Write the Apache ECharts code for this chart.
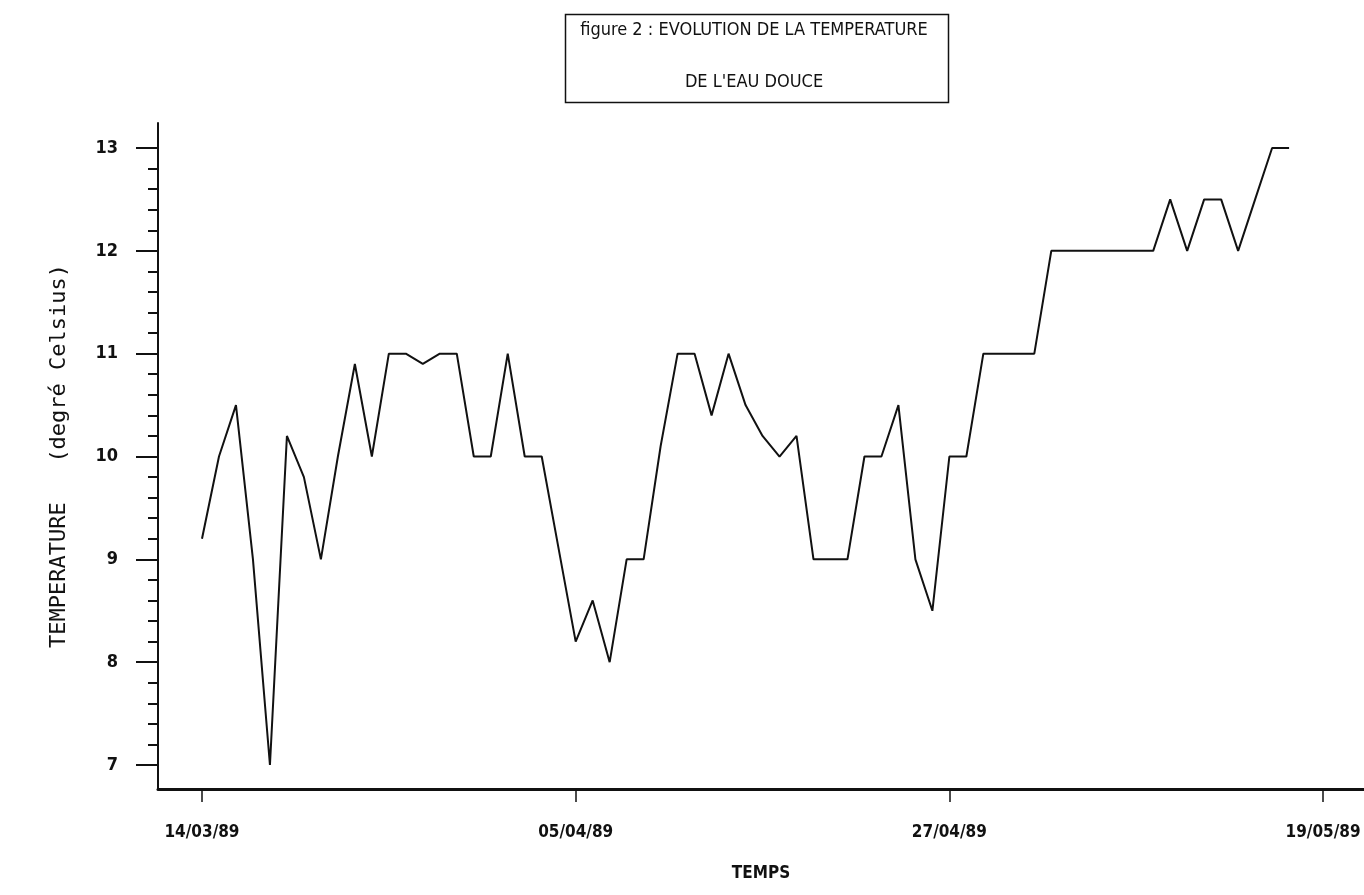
<!DOCTYPE html>
<html>
<head>
<meta charset="utf-8">
<title>Evolution de la température de l'eau douce</title>
<script src="https://cdn.jsdelivr.net/npm/echarts@6/dist/echarts.min.js"></script>
<style>
  html, body { margin: 0; padding: 0; background: #ffffff; }
  #chart { width: 1364px; height: 895px; }
</style>
</head>
<body>
<div id="chart"></div>
<script>
// Daily water temperature readings (°C), one per day starting 14/03/89
const temperatures = [
  9.2, 10.0, 10.5, 9.0, 7.0, 10.2, 9.8, 9.0, 10.0, 10.9,
  10.0, 11.0, 11.0, 10.9, 11.0, 11.0, 10.0, 10.0, 11.0, 10.0,
  10.0, 9.1, 8.2, 8.6, 8.0, 9.0, 9.0, 10.1, 11.0, 11.0,
  10.4, 11.0, 10.5, 10.2, 10.0, 10.2, 9.0, 9.0, 9.0, 10.0,
  10.0, 10.5, 9.0, 8.5, 10.0, 10.0, 11.0, 11.0, 11.0, 11.0,
  12.0, 12.0, 12.0, 12.0, 12.0, 12.0, 12.0, 12.5, 12.0, 12.5,
  12.5, 12.0, 12.5, 13.0, 13.0
];

// Date ticks (day offset from 14/03/89) and their labels
const dateTickDays = [0, 22, 44, 66];
const dateTickLabels = ['14/03/89', '05/04/89', '27/04/89', '19/05/89'];

// Temperature ticks: labelled every degree, minor marks every 0.2
const tempTicks = [7, 8, 9, 10, 11, 12, 13];
const minorPerDegree = 5;

const titleLines = ['figure 2 : EVOLUTION DE LA TEMPERATURE', "DE L'EAU DOUCE"];
const xName = 'TEMPS';
const yName = 'TEMPERATURE   (degré Celsius)';

const narrow = "'DejaVu Sans Condensed', 'Liberation Sans Narrow', sans-serif";
const mono = "'DejaVu Sans Mono', 'Liberation Mono', monospace";
const ink = '#111111';

const seriesData = temperatures.map((t, day) => [day, t]);

const minorTicks = [];
for (let i = 0; i < tempTicks.length - 1; i++) {
  for (let k = 1; k < minorPerDegree; k++) {
    minorTicks.push(+(tempTicks[i] + k / minorPerDegree).toFixed(2));
  }
}

// Axis extents: the frame runs a little past the first and last ticks
const xMin = -2.59, xMax = 68.41;
const yMin = 6.767, yMax = 13.243;

const chart = echarts.init(document.getElementById('chart'), null, { renderer: 'canvas' });

chart.setOption({
  backgroundColor: '#ffffff',
  animation: false,
  grid: { left: 158, right: 0, top: 123, bottom: 106 },
  xAxis: {
    type: 'value', min: xMin, max: xMax,
    axisLine: { show: true, onZero: false, lineStyle: { color: ink, width: 3 } },
    axisTick: { show: true, customValues: dateTickDays, length: 13, lineStyle: { color: ink, width: 1.5 } },
    axisLabel: {
      customValues: dateTickDays, margin: 35, color: ink, fontFamily: narrow, fontSize: 17, fontWeight: 'bold',
      formatter: v => dateTickLabels[dateTickDays.indexOf(Math.round(v))] || ''
    },
    splitLine: { show: false },
    name: xName, nameLocation: 'middle', nameGap: 76,
    nameTextStyle: { color: ink, fontFamily: narrow, fontSize: 17, fontWeight: 'bold' }
  },
  yAxis: [
    {
      type: 'value', min: yMin, max: yMax, position: 'left',
      axisLine: { show: true, onZero: false, lineStyle: { color: ink, width: 2 } },
      axisTick: { show: true, customValues: tempTicks, length: 22, lineStyle: { color: ink, width: 2 } },
      axisLabel: { customValues: tempTicks, margin: 40, color: ink, fontFamily: narrow, fontSize: 18, fontWeight: 'bold' },
      splitLine: { show: false },
      name: yName, nameLocation: 'middle', nameGap: 88, nameRotate: 90,
      nameTextStyle: { color: ink, fontFamily: mono, fontSize: 22 }
    },
    {
      type: 'value', min: yMin, max: yMax, position: 'left', offset: 0,
      axisLine: { show: false, onZero: false },
      axisTick: { show: true, customValues: minorTicks, length: 10, lineStyle: { color: ink, width: 2 } },
      axisLabel: { show: false },
      splitLine: { show: false }
    }
  ],
  series: [
    {
      type: 'line', xAxisIndex: 0, yAxisIndex: 0,
      data: seriesData, showSymbol: false, symbol: 'none',
      lineStyle: { color: ink, width: 2 }
    }
  ],
  graphic: [
    {
      type: 'rect', left: 563, top: 12,
      shape: { width: 383, height: 88 },
      style: { fill: 'none', stroke: ink, lineWidth: 1.5 }
    },
    {
      type: 'text', x: 754, y: 30,
      style: { text: titleLines[0], fill: ink, font: "18px " + narrow, textAlign: 'center', textVerticalAlign: 'middle' }
    },
    {
      type: 'text', x: 754, y: 82,
      style: { text: titleLines[1], fill: ink, font: "18px " + narrow, textAlign: 'center', textVerticalAlign: 'middle' }
    }
  ]
});
</script>
</body>
</html>
